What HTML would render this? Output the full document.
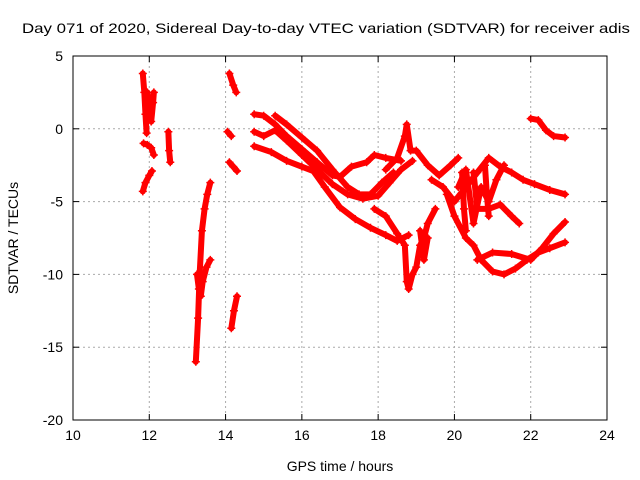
<!DOCTYPE html>
<html><head><meta charset="utf-8"><style>
body{margin:0;background:#fff}
svg{display:block;font-family:"Liberation Sans",sans-serif}
</style></head><body>
<svg id="chart" width="640" height="480" viewBox="0 0 640 480">
<text x="22" y="33" font-size="14" textLength="608" lengthAdjust="spacingAndGlyphs">Day 071 of 2020, Sidereal Day-to-day VTEC variation (SDTVAR) for receiver adis</text>
<g id="grid"></g>
<g id="axes"></g>
<g id="series"></g>
<rect x="73" y="56" width="534" height="364" fill="none" stroke="#000"/>
<text x="340" y="471" font-size="14" text-anchor="middle">GPS time / hours</text>
<text transform="translate(18,238) rotate(-90)" font-size="14" text-anchor="middle">SDTVAR / TECUs</text>
</svg>
<script>
const xTicks=[10,12,14,16,18,20,22,24];
const yTicks=[5,0,-5,-10,-15,-20];
const traces=[
[[11.83,3.8],[11.87,2.5],[11.9,1],[11.93,-0.3]],
[[11.95,2.5],[12.0,1.5],[12.05,0.5],[12.1,1.8],[12.12,2.5]],
[[11.85,-1],[11.95,-1.1],[12.05,-1.3],[12.12,-1.8]],
[[11.83,-4.3],[11.9,-3.7],[12.0,-3.2],[12.07,-2.9]],
[[12.5,-0.2],[12.52,-1.5],[12.55,-2.3]],
[[13.22,-16],[13.28,-13],[13.32,-10],[13.38,-7],[13.45,-5.5],[13.52,-4.5],[13.6,-3.7]],
[[13.25,-10],[13.3,-11],[13.35,-11.5],[13.4,-10.5],[13.5,-9.5],[13.6,-9]],
[[14.05,-0.2],[14.15,-0.5]],
[[14.1,3.8],[14.2,3],[14.28,2.5]],
[[14.1,-2.3],[14.2,-2.6],[14.3,-2.9]],
[[14.15,-13.7],[14.22,-12.5],[14.3,-11.5]],
[[14.75,1.0],[15.0,0.9],[15.3,0.3],[15.6,-0.5],[16.0,-1.4],[16.4,-2.3],[16.8,-3.2],[17.0,-3.3],[17.3,-2.6],[17.7,-2.3],[17.9,-1.8],[18.2,-2.0],[18.6,-2.2]],
[[15.3,0.9],[15.6,0.3],[16.0,-0.6],[16.4,-1.5],[16.8,-2.8],[17.2,-4.0],[17.5,-4.5],[17.8,-4.5],[18.1,-3.7],[18.4,-3.0]],
[[14.75,-0.2],[15.0,-0.5],[15.3,-0.1],[15.6,-0.8],[16.0,-1.8],[16.4,-2.8],[16.8,-3.8],[17.2,-4.5],[17.6,-4.8],[18.0,-4.6],[18.3,-3.7],[18.6,-2.8],[18.9,-2.2]],
[[14.75,-1.2],[15.2,-1.6],[15.6,-2.2],[16.0,-2.6],[16.3,-2.9],[16.6,-4],[17.0,-5.4],[17.4,-6.2],[17.8,-6.8],[18.2,-7.3],[18.5,-7.7],[18.8,-7.3]],
[[17.9,-5.5],[18.2,-6],[18.5,-7.2],[18.7,-8],[18.75,-10.5],[18.8,-11],[18.9,-10],[19.0,-9.5],[19.1,-8],[19.2,-7.5],[19.3,-6.5],[19.5,-5.5]],
[[18.2,-2.8],[18.5,-2],[18.7,-0.5],[18.75,0.3],[18.85,-1.5],[19.0,-1.5],[19.3,-2.5],[19.6,-3.2],[19.9,-2.5],[20.1,-2]],
[[19.4,-3.5],[19.7,-4],[20.0,-5],[20.3,-4],[20.6,-3],[20.9,-2],[21.2,-2.6],[21.5,-3],[21.8,-3.5],[22.1,-3.8],[22.5,-4.2],[22.9,-4.5]],
[[19.8,-4.5],[20.0,-6],[20.3,-7.5],[20.5,-8],[20.7,-9],[21.0,-9.8],[21.3,-10],[21.6,-9.6],[21.9,-9],[22.2,-8.5],[22.5,-8.2],[22.9,-7.8]],
[[20.5,-3],[20.6,-5.5],[20.9,-5.5],[21.2,-5.2],[21.5,-6],[21.7,-6.5]],
[[20.6,-9],[21.0,-8.5],[21.5,-8.6],[22.0,-9],[22.3,-8.2],[22.6,-7.2],[22.9,-6.4]],
[[22.0,0.7],[22.2,0.6],[22.4,-0.1],[22.6,-0.5],[22.9,-0.6]],
[[20.1,-4],[20.3,-2.8],[20.5,-6.5],[20.7,-4],[20.9,-5],[21.1,-3.5],[21.3,-2.5]],
[[19.1,-7],[19.2,-9],[19.3,-7.5]],
[[20.2,-3],[20.25,-5.5],[20.3,-7]],
[[20.8,-2.5],[20.85,-4.5],[20.9,-6]]
];
const X=v=>73+(v-10)*(534/14);
const Y=v=>56+(5-v)*(364/25);
const NS="http://www.w3.org/2000/svg";
const grid=document.getElementById('grid'),axes=document.getElementById('axes'),ser=document.getElementById('series');
function mk(t,a,p){const e=document.createElementNS(NS,t);for(const k in a)e.setAttribute(k,a[k]);p.appendChild(e);return e;}
xTicks.forEach(v=>{
 if(v>10&&v<24){const g=mk('line',{x1:X(v),x2:X(v),y1:56,y2:420,stroke:'#aaa','stroke-dasharray':'2,3'},grid);
 
 }
 mk('line',{x1:X(v),x2:X(v),y1:420,y2:414,stroke:'#000'},axes);
 mk('line',{x1:X(v),x2:X(v),y1:56,y2:62,stroke:'#000'},axes);
 const t=mk('text',{x:X(v),y:440,'font-size':14,'text-anchor':'middle'},axes);t.textContent=v;
 
 
});
yTicks.forEach(v=>{
 if(v<5&&v>-20){const g=mk('line',{x1:73,x2:607,y1:Y(v),y2:Y(v),stroke:'#aaa','stroke-dasharray':'2,3'},grid);
 
 }
 mk('line',{x1:73,x2:79,y1:Y(v),y2:Y(v),stroke:'#000'},axes);
 mk('line',{x1:607,x2:601,y1:Y(v),y2:Y(v),stroke:'#000'},axes);
 const t=mk('text',{x:63,y:Y(v)+5,'font-size':14,'text-anchor':'end'},axes);t.textContent=v;
 
 
});
traces.forEach(tr=>{
 const pl=mk('polyline',{points:tr.map(p=>X(p[0])+','+Y(p[1])).join(' '),fill:'none',stroke:'#f00','stroke-width':6,'stroke-linejoin':'round','stroke-linecap':'round'},ser);
 
 
 tr.forEach(p=>{
  const x=X(p[0]),y=Y(p[1]);
  const m=mk('path',{d:`M${x-4},${y}H${x+4}M${x},${y-4}V${y+4}`,stroke:'#f00','stroke-width':1.5},ser);
  
  
 });
});
</script>
</body></html>
